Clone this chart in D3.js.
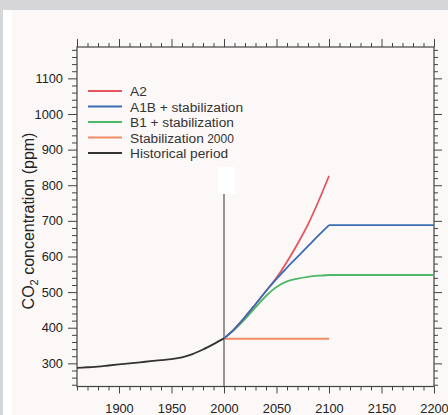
<!DOCTYPE html>
<html>
<head>
<meta charset="utf-8">
<script src="https://cdn.jsdelivr.net/npm/d3@7"></script>
<style>
  html, body { margin: 0; padding: 0; background: #fff; }
  svg { display: block; font-family: "Liberation Sans", Arial, Helvetica, sans-serif; }
</style>
</head>
<body>
<svg id="chart" width="448" height="415"></svg>
<script>
// Atmospheric CO2 concentration (ppm): historical record and scenarios
const historyYears = [1860, 1870, 1880, 1890, 1900, 1910, 1920, 1930, 1940, 1950, 1960, 1970, 1980, 1990, 2000];
const historyPpm   = [287, 289, 291, 294, 297, 300, 303, 306, 309, 312, 317, 326, 339, 354, 370];

// scenario years up to 2100; stabilized series stay flat to 2200
const scenarioYears = [2000, 2010, 2020, 2030, 2040, 2050, 2060, 2070, 2080, 2090, 2100];
const a2Ppm   = [370, 397, 430, 466, 503, 540, 585, 635, 690, 755, 826];
const a1bPpm  = [370, 397, 430, 466, 503, 537, 569, 599, 629, 659, 688];
const b1Ppm   = [370, 395, 424, 457, 489, 514, 530, 538, 543, 546, 548];
const stabPpm = [369, 369, 369, 369, 369, 369, 369, 369, 369, 369, 369];
const stabilizedUntil = 2200;

const seriesNames  = ["A2", "A1B + stabilization", "B1 + stabilization", "Stabilization", "Historical period"];
const seriesColors = ["#e6555f", "#3c6cb4", "#4db865", "#f28a66", "#333333"];

const xMajorTicks = [1900, 1950, 2000, 2050, 2100, 2150, 2200];
const yMajorTicks = [300, 400, 500, 600, 700, 800, 900, 1000, 1100];

const svg = d3.select("#chart");

// page backdrop
svg.append("rect").attr("width", 448).attr("height", 415).attr("fill", "#d6d6d8");
svg.append("rect").attr("x", 3).attr("y", 10).attr("width", 445).attr("height", 405).attr("fill", "#ffffff");
svg.append("rect").attr("x", 12).attr("y", 10).attr("width", 436).attr("height", 405).attr("fill", "#fcf8f8");

const x = d3.scaleLinear().domain([1860, 2200]).range([77, 434]);
const y = d3.scaleLinear().domain([235, 1188]).range([386.5, 47]);

const xMinor = d3.range(1860, 2201, 10).filter(v => !xMajorTicks.includes(v));
const yMinor = d3.range(240, 1181, 20).filter(v => !yMajorTicks.includes(v));

const axisColor = "#444";
function styleAxis(g) {
  g.select(".domain").remove();
  g.selectAll(".tick line").attr("stroke", axisColor).attr("stroke-width", 1);
  g.selectAll(".tick text").attr("fill", "#222").attr("font-size", 12.8);
}

// bottom axis
svg.append("g").attr("transform", `translate(0,${y.range()[0]})`)
  .call(d3.axisBottom(x).tickValues(xMinor).tickSize(4).tickFormat(""))
  .call(styleAxis);
svg.append("g").attr("transform", `translate(0,${y.range()[0]})`)
  .call(d3.axisBottom(x).tickValues(xMajorTicks).tickSize(7).tickPadding(10).tickFormat(d3.format("d")))
  .call(styleAxis);
// top axis
svg.append("g").attr("transform", `translate(0,${y.range()[1]})`)
  .call(d3.axisTop(x).tickValues(xMinor).tickSize(4).tickFormat(""))
  .call(styleAxis);
svg.append("g").attr("transform", `translate(0,${y.range()[1]})`)
  .call(d3.axisTop(x).tickValues(xMajorTicks.concat([1860])).tickSize(8).tickFormat(""))
  .call(styleAxis);
// left axis
svg.append("g").attr("transform", `translate(${x.range()[0]},0)`)
  .call(d3.axisLeft(y).tickValues(yMinor).tickSize(5).tickFormat(""))
  .call(styleAxis);
svg.append("g").attr("transform", `translate(${x.range()[0]},0)`)
  .call(d3.axisLeft(y).tickValues(yMajorTicks).tickSize(9).tickPadding(5).tickFormat(d3.format("d")))
  .call(styleAxis);
// right axis
svg.append("g").attr("transform", `translate(${x.range()[1]},0)`)
  .call(d3.axisRight(y).tickValues(yMinor).tickSize(4).tickFormat(""))
  .call(styleAxis);
svg.append("g").attr("transform", `translate(${x.range()[1]},0)`)
  .call(d3.axisRight(y).tickValues(yMajorTicks).tickSize(8).tickFormat(""))
  .call(styleAxis);

// plot frame
svg.append("rect")
  .attr("x", x.range()[0]).attr("y", y.range()[1])
  .attr("width", x.range()[1] - x.range()[0]).attr("height", y.range()[0] - y.range()[1])
  .attr("fill", "none").attr("stroke", axisColor).attr("stroke-width", 1.2);

// y axis title
svg.append("text")
  .attr("transform", `translate(33.5,221) rotate(-90)`)
  .attr("text-anchor", "middle").attr("font-size", 16).attr("fill", "#222")
  .call(t => {
    t.append("tspan").text("CO");
    t.append("tspan").attr("font-size", 11).attr("dy", 4).text("2");
    t.append("tspan").attr("dy", -4).text(" concentration (ppm)");
  });

// year-2000 marker
svg.append("rect").attr("x", 218).attr("y", 167).attr("width", 17).attr("height", 27).attr("fill", "#ffffff");
svg.append("line")
  .attr("x1", x(2000)).attr("x2", x(2000))
  .attr("y1", 194).attr("y2", y.range()[0])
  .attr("stroke", "#333").attr("stroke-width", 1);

const curved = d3.line()
  .x(d => x(d[0])).y(d => y(d[1]))
  .curve(d3.curveMonotoneX);
const straight = d3.line()
  .x(d => x(d[0])).y(d => y(d[1]));

const lineSeries = [
  { values: stabPpm, color: seriesColors[3], flatAfter: false },
  { values: b1Ppm,   color: seriesColors[2], flatAfter: true },
  { values: a2Ppm,   color: seriesColors[0], flatAfter: false },
  { values: a1bPpm,  color: seriesColors[1], flatAfter: true }
];
lineSeries.forEach(s => {
  const pts = scenarioYears.map((yr, i) => [yr, s.values[i]]);
  svg.append("path").datum(pts)
    .attr("d", curved)
    .attr("fill", "none").attr("stroke", s.color).attr("stroke-width", 1.8);
  if (s.flatAfter) {
    const last = pts[pts.length - 1];
    svg.append("path").datum([last, [stabilizedUntil, last[1]]])
      .attr("d", straight)
      .attr("fill", "none").attr("stroke", s.color).attr("stroke-width", 1.8);
  }
});
svg.append("path").datum(historyYears.map((yr, i) => [yr, historyPpm[i]]))
  .attr("d", curved)
  .attr("fill", "none").attr("stroke", seriesColors[4]).attr("stroke-width", 1.8);

// legend
const legend = svg.append("g").attr("transform", "translate(88,91)");
seriesNames.forEach((name, i) => {
  const g = legend.append("g").attr("transform", `translate(0,${i * 15.5})`);
  g.append("line").attr("x1", 0).attr("x2", 34).attr("y1", 0).attr("y2", 0)
    .attr("stroke", seriesColors[i]).attr("stroke-width", 1.8);
  const t = g.append("text").attr("x", 42).attr("y", 5)
    .attr("font-size", 13.7).attr("fill", "#333").text(name);
  if (name === "Stabilization") {
    t.append("tspan").attr("font-size", 12).text(" 2000");
  }
});
</script>
</body>
</html>
